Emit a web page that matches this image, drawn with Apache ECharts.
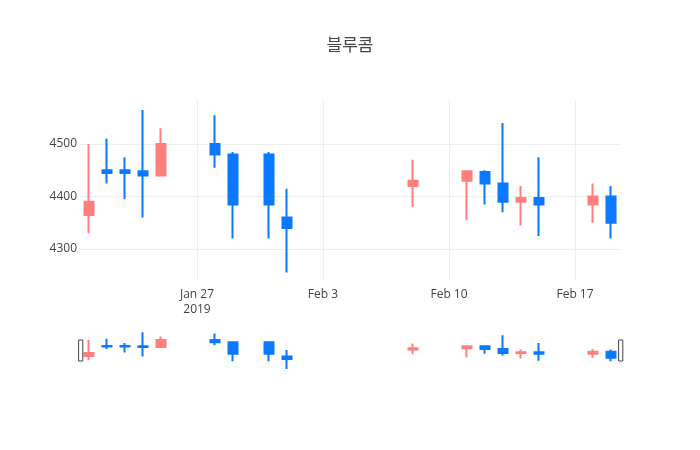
<!DOCTYPE html>
<html>
<head>
<meta charset="utf-8">
<script src="https://cdn.jsdelivr.net/npm/echarts@6/dist/echarts.min.js"></script>
<style>
html, body { margin: 0; padding: 0; background: #fff; }
#main { width: 700px; height: 450px; }
</style>
</head>
<body>
<div id="main"></div>
<script>
// 일별 시세 (open, close, low, high)
var dates = ['2019-01-21', '2019-01-22', '2019-01-23', '2019-01-24', '2019-01-25',
    '2019-01-28', '2019-01-29', '2019-01-31', '2019-02-01', '2019-02-08',
    '2019-02-11', '2019-02-12', '2019-02-13', '2019-02-14', '2019-02-15',
    '2019-02-18', '2019-02-19'];
var openPrices  = [4365, 4450, 4450, 4448, 4440, 4500, 4480, 4480, 4360, 4420, 4430, 4447, 4425, 4390, 4397, 4385, 4400];
var closePrices = [4390, 4445, 4445, 4440, 4500, 4480, 4385, 4385, 4340, 4430, 4448, 4425, 4390, 4397, 4385, 4400, 4350];
var lowPrices   = [4330, 4425, 4395, 4360, 4440, 4455, 4320, 4320, 4255, 4380, 4355, 4385, 4370, 4345, 4325, 4350, 4320];
var highPrices  = [4500, 4510, 4475, 4565, 4530, 4555, 4485, 4485, 4415, 4470, 4450, 4450, 4540, 4420, 4475, 4425, 4420];
var tickDates = ['2019-01-27', '2019-02-03', '2019-02-10', '2019-02-17'];
var priceTicks = [4300, 4400, 4500];
var monthNames = ['Jan', 'Feb', 'Mar', 'Apr', 'May', 'Jun', 'Jul', 'Aug', 'Sep', 'Oct', 'Nov', 'Dec'];

var upColor = '#ff7f7f';
var downColor = '#0a78ff';
var DAY = 24 * 3600 * 1000;

function toTime(s) {
    var p = s.split('-');
    return new Date(+p[0], +p[1] - 1, +p[2]).getTime();
}

var rows = [];
for (var i = 0; i < dates.length; i++) {
    rows.push([toTime(dates[i]), openPrices[i], closePrices[i], lowPrices[i], highPrices[i]]);
}
var tickTimes = tickDates.map(toTime);
var xMin = toTime('2019-01-21') - DAY / 2;
var xMax = toTime('2019-02-19') + DAY / 2;
var yMin = 4239, yMax = 4584;

var myChart = echarts.init(document.getElementById('main'));

var candleStyle = {
    color: upColor,
    color0: downColor,
    borderColor: upColor,
    borderColor0: downColor,
    borderWidth: 2
};

var option = {
    backgroundColor: '#fff',
    animation: false,
    textStyle: { fontFamily: '"Open Sans", "Noto Sans CJK KR", sans-serif' },
    title: {
        text: '블루콤',
        left: 'center',
        top: 33,
        textStyle: {
            fontFamily: '"Open Sans", "Noto Sans CJK KR", sans-serif',
            fontSize: 17,
            fontWeight: 'normal',
            color: '#444'
        }
    },
    dataset: { source: rows },
    grid: [
        { left: 80, right: 80, top: 100, height: 181 },
        { left: 80, right: 80, top: 330, height: 41 }
    ],
    xAxis: [{
        type: 'value',
        gridIndex: 0,
        min: xMin,
        max: xMax,
        axisLine: { show: false },
        axisTick: { show: false, customValues: tickTimes },
        splitLine: { show: true, lineStyle: { color: '#eee', width: 1 } },
        axisLabel: {
            customValues: tickTimes,
            color: '#444',
            fontSize: 12,
            margin: 6,
            lineHeight: 15,
            hideOverlap: false,
            formatter: function (val) {
                var d = new Date(val);
                var s = monthNames[d.getMonth()] + ' ' + d.getDate();
                if (d.getMonth() === 0 && d.getDate() === 27) s += '\n' + d.getFullYear();
                return s;
            }
        }
    }, {
        type: 'value',
        gridIndex: 1,
        min: xMin,
        max: xMax,
        show: false,
        splitLine: { show: false }
    }],
    yAxis: [{
        type: 'value',
        gridIndex: 0,
        min: yMin,
        max: yMax,
        axisLine: { show: false },
        axisTick: { show: false, customValues: priceTicks },
        splitLine: { show: true, lineStyle: { color: '#eee', width: 1 } },
        axisLabel: {
            customValues: priceTicks,
            color: '#444',
            fontSize: 12,
            margin: 3,
            formatter: function (v) { return String(v); }
        }
    }, {
        type: 'value',
        gridIndex: 1,
        min: yMin,
        max: yMax,
        show: false,
        splitLine: { show: false }
    }],
    dataZoom: [{
        type: 'slider',
        xAxisIndex: [0, 1],
        filterMode: 'none',
        start: 0,
        end: 100,
        left: 79,
        right: 79,
        top: 330,
        height: 41,
        backgroundColor: 'rgba(0,0,0,0)',
        borderColor: 'rgba(0,0,0,0)',
        fillerColor: 'rgba(0,0,0,0)',
        showDataShadow: false,
        showDetail: false,
        brushSelect: false,
        moveHandleSize: 0,
        handleIcon: 'path://M0,0L4,0L4,20L0,20Z',
        handleSize: 21,
        handleStyle: { color: '#fff', borderColor: '#444', borderWidth: 1 },
        emphasis: { handleStyle: { color: '#fff', borderColor: '#444' } }
    }],
    series: [{
        name: '블루콤',
        type: 'candlestick',
        xAxisIndex: 0,
        yAxisIndex: 0,
        barWidth: 9,
        encode: { x: 0, y: [1, 2, 3, 4] },
        itemStyle: candleStyle
    }, {
        name: '블루콤 range',
        type: 'candlestick',
        xAxisIndex: 1,
        yAxisIndex: 1,
        barWidth: 9,
        encode: { x: 0, y: [1, 2, 3, 4] },
        itemStyle: candleStyle
    }]
};

myChart.setOption(option);
</script>
</body>
</html>
